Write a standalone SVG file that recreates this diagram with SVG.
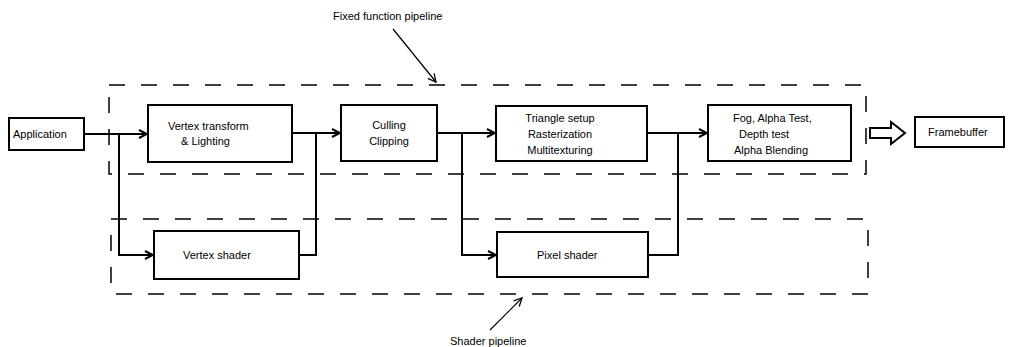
<svg xmlns="http://www.w3.org/2000/svg" width="1009" height="347" viewBox="0 0 1009 347">
<defs>
<style>
.box{fill:#fff;stroke:#000;stroke-width:2}
.dash{fill:none;stroke:#000;stroke-width:1.5;stroke-dasharray:16 16}
.ln{fill:none;stroke:#000;stroke-width:2}
.thin{fill:none;stroke:#000;stroke-width:1.2}
text{font-family:"Liberation Sans",Arial,sans-serif;font-size:11px;fill:#000}
</style>
<marker id="ah" viewBox="0 0 10 10" refX="9" refY="5" markerWidth="10" markerHeight="10" markerUnits="userSpaceOnUse" orient="auto">
<path d="M1,1 L9,5 L1,9" fill="none" stroke="#000" stroke-width="2"/>
</marker>
<marker id="ah2" viewBox="0 0 10 10" refX="9" refY="5" markerWidth="10" markerHeight="10" markerUnits="userSpaceOnUse" orient="auto">
<path d="M1,1 L9,5 L1,9" fill="none" stroke="#000" stroke-width="1.3"/>
</marker>
</defs>
<rect width="1009" height="347" fill="#fff"/>
<g id="fixed-pipeline">
<rect class="dash" x="109" y="85" width="757" height="89"/>
<text x="333" y="20">Fixed function pipeline</text>
<line class="thin" x1="393" y1="29" x2="436" y2="82" marker-end="url(#ah2)"/>
</g>
<g id="shader-pipeline">
<rect class="dash" x="111" y="219" width="757" height="75"/>
<text x="450" y="345">Shader pipeline</text>
<line class="thin" x1="490" y1="330" x2="522" y2="298" marker-end="url(#ah2)"/>
</g>
<g id="connectors">
<line class="ln" x1="84" y1="134" x2="147" y2="134" marker-end="url(#ah)"/>
<polyline class="ln" points="119,134 119,255 153,255" marker-end="url(#ah)"/>
<line class="ln" x1="292" y1="133" x2="340" y2="133" marker-end="url(#ah)"/>
<polyline class="ln" points="299,255 316,255 316,133"/>
<line class="ln" x1="437" y1="133" x2="495" y2="133" marker-end="url(#ah)"/>
<polyline class="ln" points="462,133 462,255 496,255" marker-end="url(#ah)"/>
<line class="ln" x1="647" y1="133" x2="707" y2="133" marker-end="url(#ah)"/>
<polyline class="ln" points="648,255 678,255 678,133"/>
<path d="M870,128 L891,128 L891,122 L905,133 L891,144 L891,138 L870,138 Z" fill="#fff" stroke="#000" stroke-width="2" stroke-linejoin="miter"/>
</g>
<g id="application">
<rect class="box" x="9" y="118" width="75" height="32"/>
<text x="13" y="138">Application</text>
</g>
<g id="vertex-transform">
<rect class="box" x="148" y="105" width="144" height="57"/>
<text x="168" y="130">Vertex transform</text>
<text x="181" y="145">&amp; Lighting</text>
</g>
<g id="culling">
<rect class="box" x="341" y="105" width="96" height="56"/>
<text x="389" y="129" text-anchor="middle">Culling</text>
<text x="389" y="145" text-anchor="middle">Clipping</text>
</g>
<g id="triangle-setup">
<rect class="box" x="496" y="106" width="151" height="55"/>
<text x="560" y="122" text-anchor="middle">Triangle setup</text>
<text x="560" y="138" text-anchor="middle">Rasterization</text>
<text x="560" y="154" text-anchor="middle">Multitexturing</text>
</g>
<g id="fog">
<rect class="box" x="708" y="105" width="143" height="56"/>
<text x="733" y="122">Fog, Alpha Test,</text>
<text x="739" y="138">Depth test</text>
<text x="734" y="154">Alpha Blending</text>
</g>
<g id="framebuffer">
<rect class="box" x="915" y="117" width="89" height="30"/>
<text x="928" y="136">Framebuffer</text>
</g>
<g id="vertex-shader">
<rect class="box" x="154" y="231" width="145" height="48"/>
<text x="183" y="259">Vertex shader</text>
</g>
<g id="pixel-shader">
<rect class="box" x="497" y="232" width="151" height="45"/>
<text x="537" y="259">Pixel shader</text>
</g>
</svg>
